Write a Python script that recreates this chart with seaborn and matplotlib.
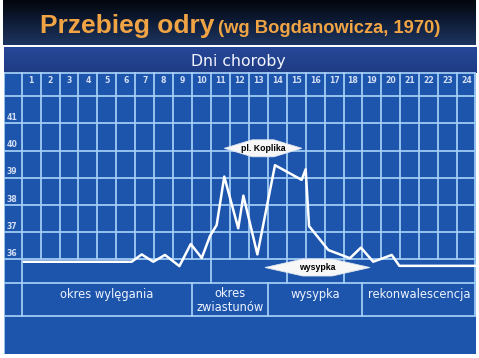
import numpy as np
import pandas as pd
import seaborn as sns
import matplotlib
matplotlib.use("Agg")
import matplotlib.pyplot as plt
from matplotlib.patches import Rectangle, Polygon
from matplotlib.colors import LinearSegmentedColormap

# ---------------- data ----------------
days = [0.12, 5.81, 6.34, 6.95, 7.57, 8.33, 8.93, 9.51, 9.95, 10.30, 10.70, 11.44,
        11.71, 12.45, 13.38, 14.79, 15.00, 15.18, 16.20, 17.34, 17.92, 18.57, 19.55,
        19.95, 23.95]
temps = [35.91, 35.91, 36.18, 35.91, 36.16, 35.75, 36.56, 36.05, 36.86, 37.26, 39.04,
         37.14, 38.34, 36.18, 39.46, 38.92, 39.31, 37.22, 36.34, 36.04, 36.43, 35.91,
         36.16, 35.76, 35.76]
day_labels = [str(d) for d in range(1, 25)]
temp_ticks = [41, 40, 39, 38, 37, 36]
phases = ["okres wylęgania", "okres\nzwiastunów", "wysypka", "rekonwalescencja"]
phase_bounds = [0, 9, 13, 18, 24]          # day boundaries of the phase cells
lower_bounds = [10, 14, 17]                 # dividers in row under the grid
koplik_span = (10.7, 14.8)
rash_span = (12.85, 18.4)

title_main = "Przebieg odry"
title_sub = "(wg Bogdanowicza, 1970)"
header = "Dni choroby"

# ---------------- figure ----------------
W, H = 479, 358
fig = plt.figure(figsize=(W / 100, H / 100), dpi=100)
fig.patch.set_facecolor("white")

# background axes in pixel coords (title area)
bg = fig.add_axes([0, 0, 1, 1])
bg.set_xlim(0, W)
bg.set_ylim(H, 0)
bg.axis("off")
grad = np.linspace(0, 1, 64).reshape(-1, 1)
cm = LinearSegmentedColormap.from_list("t", ["#03060c", "#0f1d38", "#1e355f"])
bg.imshow(grad, cmap=cm, extent=(3, 476, 45, 0), aspect="auto", zorder=0)
bg.text(40, 33, title_main, color="#f0a444", fontsize=19, fontweight="bold",
        family="Liberation Sans", ha="left", va="baseline")
bg.text(218, 33, title_sub, color="#f0a444", fontsize=13.2, fontweight="bold",
        family="Liberation Sans", ha="left", va="baseline")

# main axes: x in days, y in degrees
PX_L, PX_R, PX_T, PX_B = 3.5, 476, 46.5, 353.5
X0, DX = 21.7, 18.93
Y36, DY = 259.3, 27.2


def tx(px):
    return (px - X0) / DX


def ty(py):
    return 36 - (py - Y36) / DY


ax = fig.add_axes([PX_L / W, 1 - PX_B / H, (PX_R - PX_L) / W, (PX_B - PX_T) / H])
ax.set_xlim(tx(PX_L), tx(PX_R))
ax.set_ylim(ty(PX_B), ty(PX_T))
ax.axis("off")
panel = "#1c55ab"
ax.add_patch(Rectangle((tx(PX_L), ty(PX_B)), tx(PX_R) - tx(PX_L), ty(PX_T) - ty(PX_B),
                       facecolor=panel, edgecolor="none", zorder=0))
hcm = LinearSegmentedColormap.from_list("h", ["#1f3c84", "#274899"])
ax.imshow(np.linspace(0, 1, 32).reshape(-1, 1), cmap=hcm,
          extent=(tx(PX_L), tx(PX_R), ty(PX_T), ty(72.7)), origin="upper",
          aspect="auto", zorder=0.5)

gc = "#a6d0f8"
glw = 1.25
y_top_days = ty(72.7)
y_grid_top = ty(96)
y_grid_bot = ty(283)
y_phase_bot = ty(316)
y_panel_bot = ty(353)
x_left = tx(4.3)
x_right = tx(475.2)

# horizontal lines
for yy in [y_top_days, y_grid_top] + temp_ticks + [y_grid_bot, y_phase_bot]:
    ax.plot([x_left, x_right], [yy, yy], color=gc, lw=glw, zorder=1, solid_capstyle="butt")
# vertical lines
ax.plot([x_left, x_left], [y_top_days, y_panel_bot], color=gc, lw=glw, zorder=1)
ax.plot([x_right, x_right], [y_top_days, y_phase_bot], color=gc, lw=glw, zorder=1)
ax.plot([0, 0], [y_top_days, y_phase_bot], color=gc, lw=glw, zorder=1)
for k in range(1, 24):
    ax.plot([k, k], [y_top_days, 36], color=gc, lw=glw, zorder=1)
for k in lower_bounds:
    ax.plot([k, k], [36, y_grid_bot], color=gc, lw=glw, zorder=1)
for k in phase_bounds[1:-1]:
    ax.plot([k, k], [y_grid_bot, y_phase_bot], color=gc, lw=glw, zorder=1)

# texts
ax.text(tx(238), ty(61.5), header, color="#f2f5ff", fontsize=11.3, ha="center",
        va="center", family="DejaVu Sans", zorder=3)
for i, lab in enumerate(day_labels):
    ax.text(i + 0.5, ty(80.5), lab, color="#d3def5", fontsize=5.6, fontweight="bold",
            ha="center", va="center", zorder=3)
for t in temp_ticks:
    ax.text(tx(12), t + 0.21, str(t), color="#d3def5", fontsize=5.6, fontweight="bold",
            ha="center", va="center", zorder=3)
phase_y = [ty(294), ty(300.5), ty(294), ty(294)]
for i, p in enumerate(phases):
    xc = (phase_bounds[i] + phase_bounds[i + 1]) / 2
    ax.text(xc, phase_y[i], p, color="#eef3ff", fontsize=8.3, ha="center", va="center",
            linespacing=1.05, zorder=3)

# data line
df = pd.DataFrame({"day": days, "temp": temps})
sns.lineplot(data=df, x="day", y="temp", ax=ax, color="white", lw=1.8,
             estimator=None, sort=False, zorder=4)
ax.set_xlim(tx(PX_L), tx(PX_R))
ax.set_ylim(ty(PX_B), ty(PX_T))
ax.axis("off")


def hex_arrow(x0, x1, yc, half_h, label):
    w = x1 - x0
    pts = [(x0, yc), (x0 + 0.36 * w, yc + half_h), (x0 + 0.64 * w, yc + half_h),
           (x1, yc), (x0 + 0.64 * w, yc - half_h), (x0 + 0.36 * w, yc - half_h)]
    ax.add_patch(Polygon(pts, closed=True, facecolor="#f7f7f7", edgecolor="#dde3ee",
                         lw=0.6, zorder=5))
    ax.text((x0 + x1) / 2, yc, label, color="black", fontsize=6.3, fontweight="bold",
            family="Liberation Sans", ha="center", va="center", zorder=6)


hex_arrow(koplik_span[0], koplik_span[1], ty(148.3), 8.5 / DY, "pl. Koplika")
hex_arrow(rash_span[0], rash_span[1], ty(267.5), 8.5 / DY, "wysypka")

fig.savefig("out.png", dpi=100)
